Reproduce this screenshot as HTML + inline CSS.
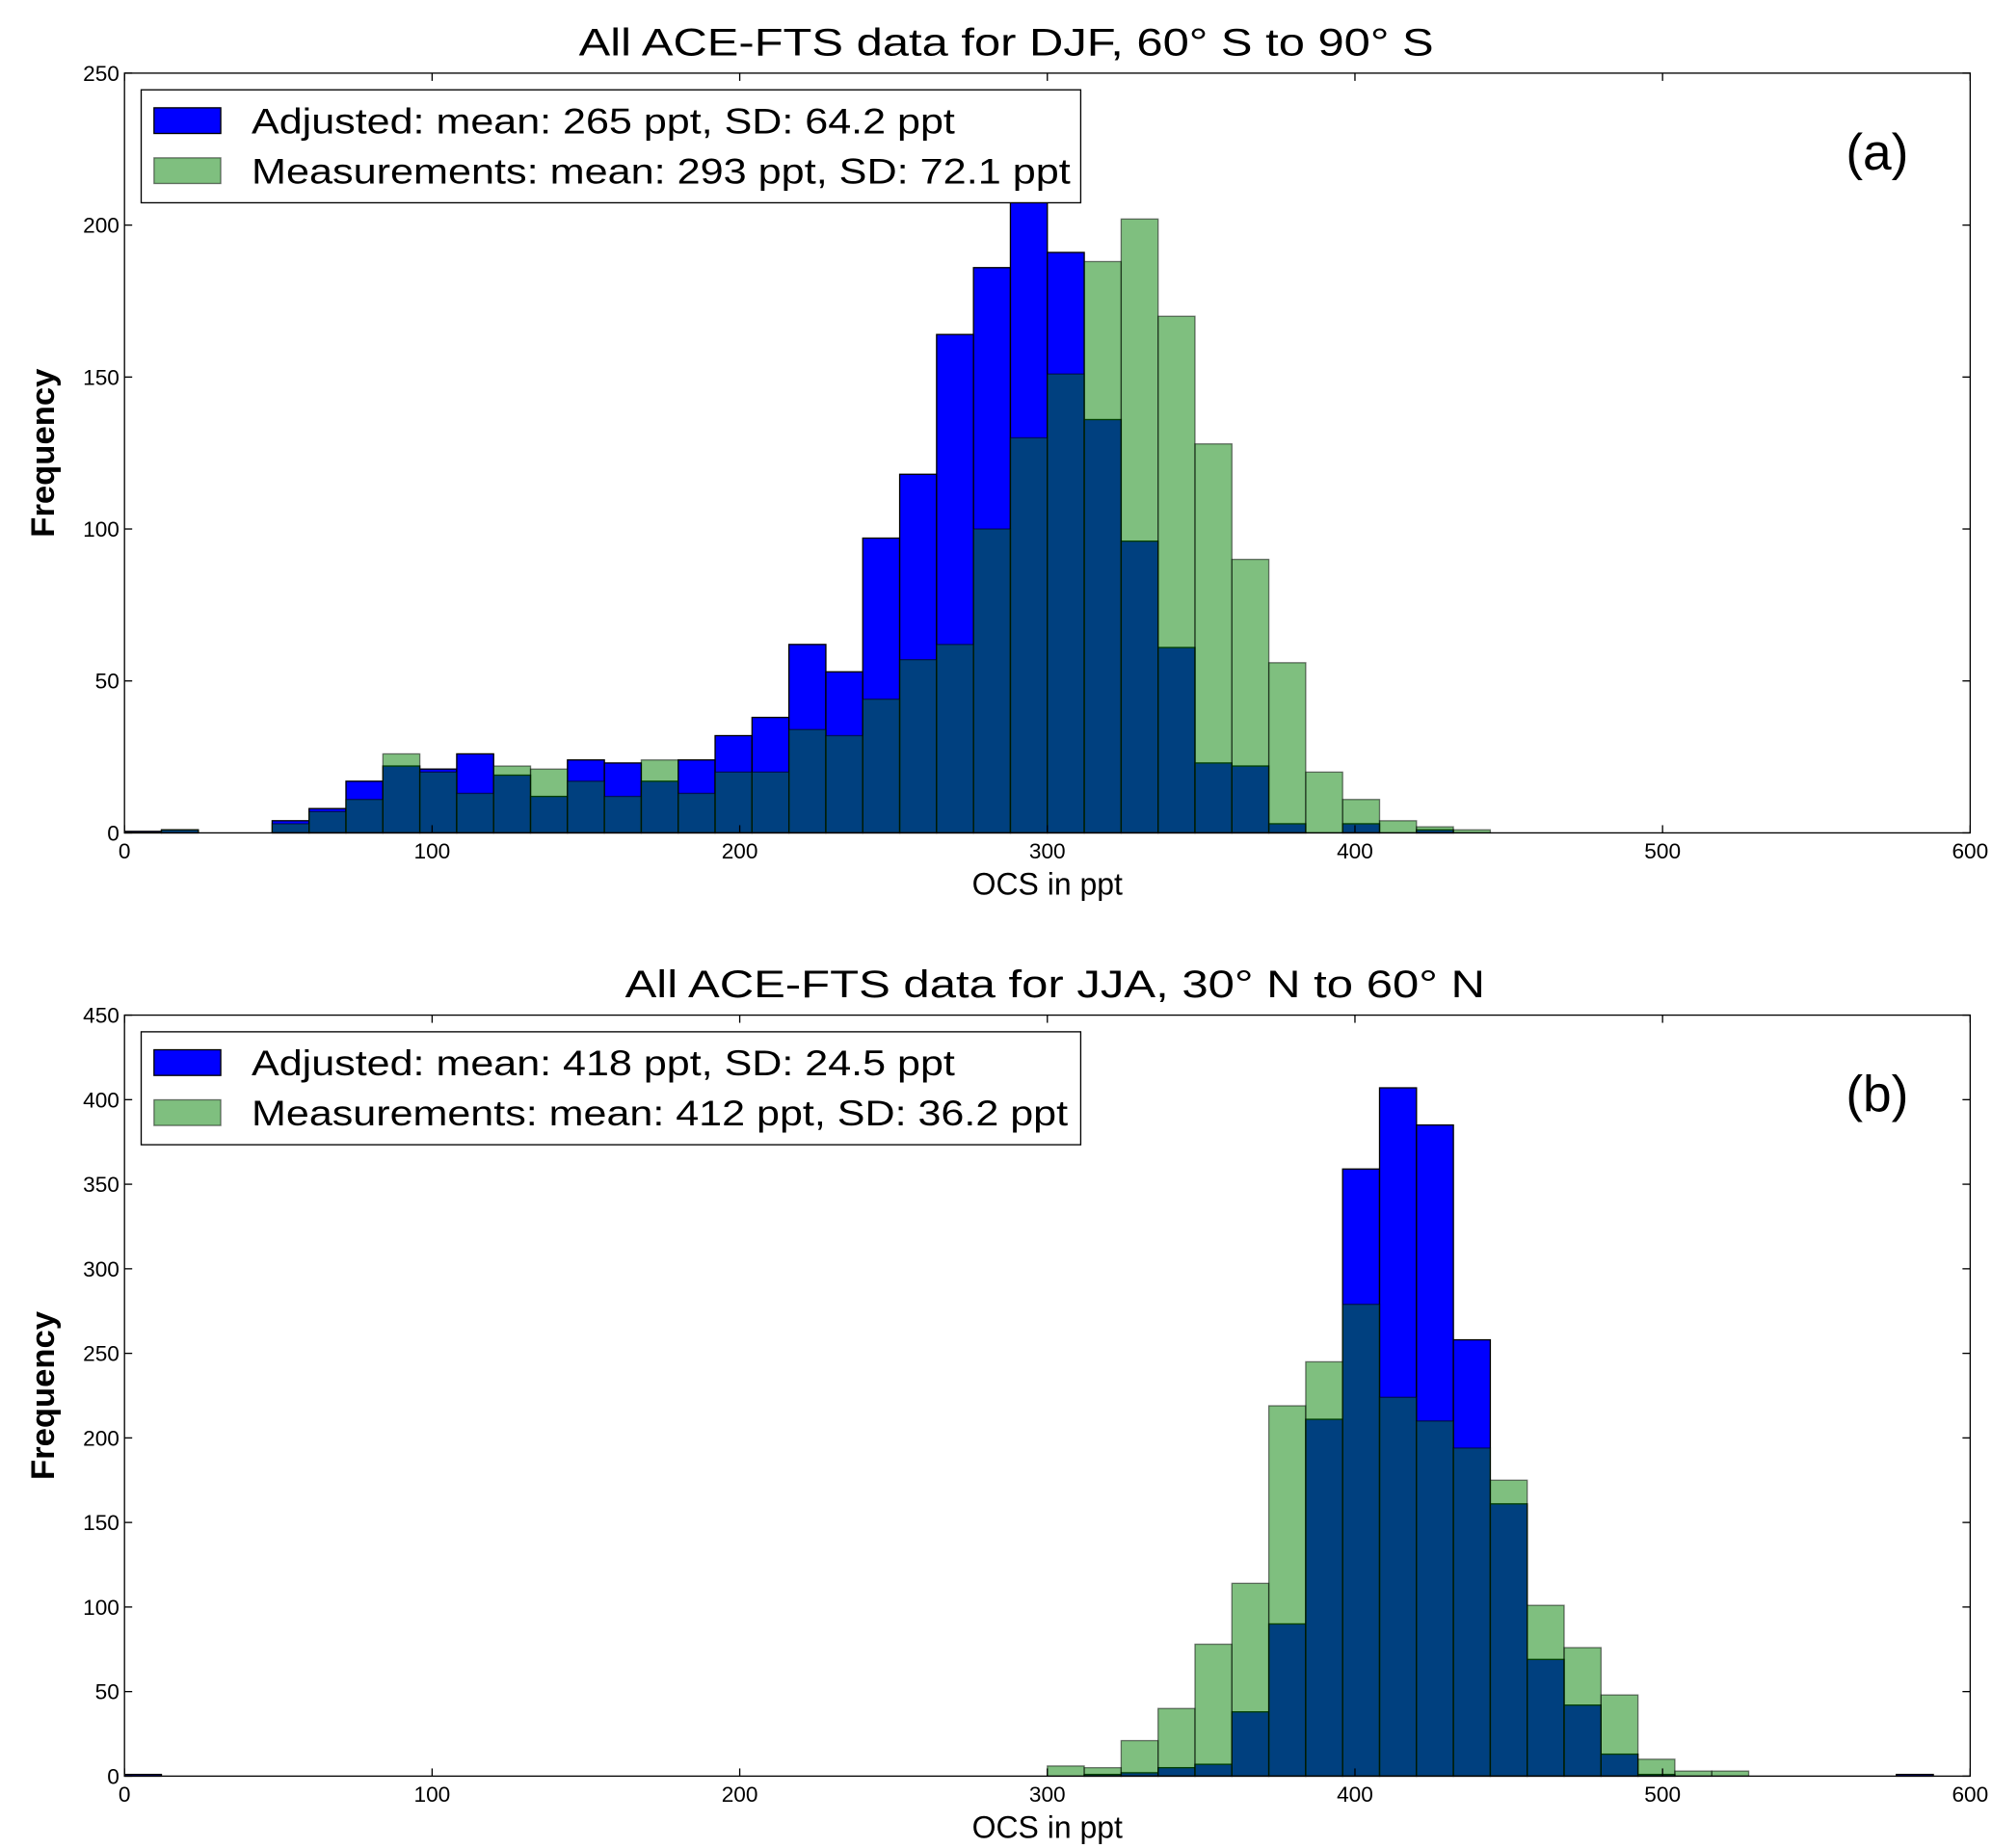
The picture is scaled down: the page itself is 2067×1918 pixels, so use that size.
<!DOCTYPE html>
<html><head><meta charset="utf-8"><style>
html,body{margin:0;padding:0;background:#fff;}
svg{display:block;font-family:"Liberation Sans",sans-serif;}
</style></head><body>
<svg id="fig" width="2067" height="1918" viewBox="0 0 1552 1440" preserveAspectRatio="none" xmlns="http://www.w3.org/2000/svg"></svg>
<script>
const binWidth = 12;
const aAdjusted = [0.5,1,0,0,4,8,17,22,21,26,19,12,24,23,17,24,32,38,62,53,97,118,164,186,215,191,136,96,61,23,22,3,0,3,0,1,0];
const aMeasured = [0,1,0,0,3,7,11,26,20,13,22,21,17,12,24,13,20,20,34,32,44,57,62,100,130,151,188,202,170,128,90,56,20,11,4,2,1];
const bAdjusted = [1,0,0,0,0,0,0,0,0,0,0,0,0,0,0,0,0,0,0,0,0,0,0,0,0,0,1,2,5,7,38,90,211,359,407,385,258,161,69,42,13,1,0,0,0,0,0,0,1];
const bMeasured = [0,0,0,0,0,0,0,0,0,0,0,0,0,0,0,0,0,0,0,0,0,0,0,0,0,6,5,21,40,78,114,219,245,279,224,210,194,175,101,76,48,10,3,3,0,0,0,0,0];
const xTicks = [0,100,200,300,400,500,600];
const aYTicks = [0,50,100,150,200,250];
const bYTicks = [0,50,100,150,200,250,300,350,400,450];

const NS = "http://www.w3.org/2000/svg";
const svg = document.getElementById('fig');
function mk(tag, attrs, parent){const e=document.createElementNS(NS,tag);for(const k in attrs)e.setAttribute(k,attrs[k]);(parent||svg).appendChild(e);return e;}

function panel(cfg){
  const g = mk('g',{});
  
  
  const L=97,R=1535,T=cfg.top,B=cfg.bottom;
  const xs=v=>L+(v/600)*(R-L);
  const ys=v=>B-(v/cfg.ymax)*(B-T);
  const t=mk('text',{x:cfg.titleX,y:T-14,'font-size':30,fill:'#000',textLength:cfg.titleW,lengthAdjust:'spacingAndGlyphs'},g);
  t.textContent=cfg.title;
  
  
  cfg.adj.forEach((v,i)=>{ if(v<=0) return;
    const r=mk('rect',{x:xs(i*binWidth),y:ys(v),width:xs(binWidth)-xs(0),height:ys(0)-ys(v),fill:'#0000ff',stroke:'#000','stroke-width':1},g);
    
    
  });
  cfg.meas.forEach((v,i)=>{ if(v<=0) return;
    const r=mk('rect',{x:xs(i*binWidth),y:ys(v),width:xs(binWidth)-xs(0),height:ys(0)-ys(v),fill:'rgba(0,128,0,0.5)',stroke:'rgba(0,0,0,0.5)','stroke-width':1},g);
    
    
  });
  const fr=mk('rect',{x:L,y:T,width:R-L,height:B-T,fill:'none',stroke:'#000','stroke-width':1},g);
  
  
  xTicks.forEach(v=>{
    mk('line',{x1:xs(v),x2:xs(v),y1:B,y2:B-6,stroke:'#000'},g);
    mk('line',{x1:xs(v),x2:xs(v),y1:T,y2:T+6,stroke:'#000'},g);
    const tx=mk('text',{x:xs(v),y:B+20,'text-anchor':'middle','font-size':17},g);
    tx.textContent=v;
    
    
  });
  cfg.yticks.forEach(v=>{
    mk('line',{x1:L,x2:L+6,y1:ys(v),y2:ys(v),stroke:'#000'},g);
    mk('line',{x1:R,x2:R-6,y1:ys(v),y2:ys(v),stroke:'#000'},g);
    const ty=mk('text',{x:L-4,y:ys(v)+6,'text-anchor':'end','font-size':17},g);
    ty.textContent=v;
    
    
  });
  const xl=mk('text',{x:816,y:B+48,'text-anchor':'middle','font-size':24},g);
  xl.textContent='OCS in ppt';
  
  
  const yl=mk('text',{x:0,y:0,'text-anchor':'middle','font-size':26,'font-weight':'bold',transform:`translate(42,${(T+B)/2}) rotate(-90)`},g);
  yl.textContent='Frequency';
  
  
  const lg=mk('g',{},g);
  
  
  mk('rect',{x:110,y:T+13,width:732,height:88,fill:'#fff',stroke:'#000','stroke-width':1},lg);
  mk('rect',{x:120,y:T+27,width:52,height:20,fill:'#0000ff',stroke:'#000'},lg);
  mk('rect',{x:120,y:T+66,width:52,height:20,fill:'rgba(0,128,0,0.5)',stroke:'rgba(0,0,0,0.5)'},lg);
  const l1=mk('text',{x:196,y:T+47,'font-size':28,textLength:cfg.l1W,lengthAdjust:'spacingAndGlyphs'},lg); l1.textContent=cfg.leg1;
  
  
  const l2=mk('text',{x:196,y:T+86,'font-size':28,textLength:cfg.l2W,lengthAdjust:'spacingAndGlyphs'},lg); l2.textContent=cfg.leg2;
  
  
  const pl=mk('text',{x:1487,y:T+75,'text-anchor':'end','font-size':40},g);
  pl.textContent=cfg.label;
  
  
}
panel({id:'panel-a',top:57,bottom:649,ymax:250,yticks:aYTicks,adj:aAdjusted,meas:aMeasured,
  title:'All ACE-FTS data for DJF, 60° S to 90° S',label:'(a)',titleX:451,titleW:666,l1W:548,l2W:638,
  leg1:'Adjusted: mean: 265 ppt, SD: 64.2 ppt',leg2:'Measurements: mean: 293 ppt, SD: 72.1 ppt'});
panel({id:'panel-b',top:791,bottom:1384,ymax:450,yticks:bYTicks,adj:bAdjusted,meas:bMeasured,
  title:'All ACE-FTS data for JJA, 30° N to 60° N',label:'(b)',titleX:487,titleW:670,l1W:548,l2W:636,
  leg1:'Adjusted: mean: 418 ppt, SD: 24.5 ppt',leg2:'Measurements: mean: 412 ppt, SD: 36.2 ppt'});
</script>
</body></html>
